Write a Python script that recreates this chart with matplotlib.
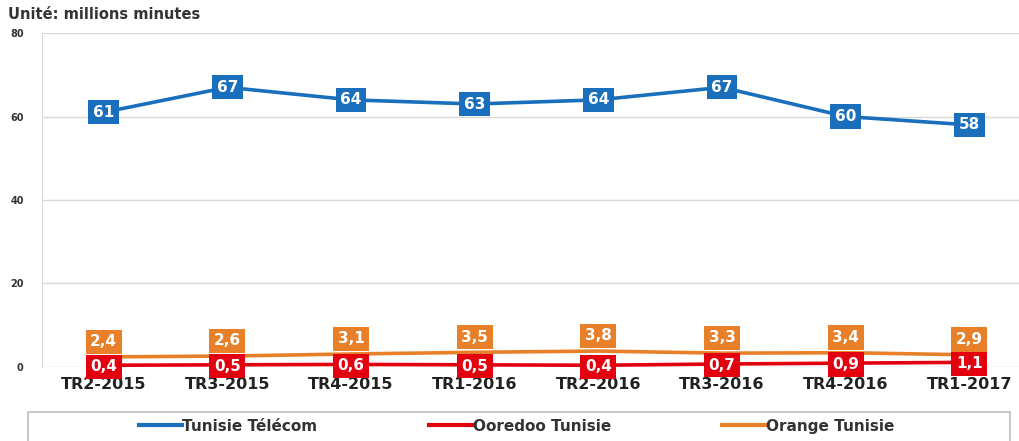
import matplotlib.pyplot as plt
from matplotlib.patches import Rectangle

# trimestres et trafic (millions de minutes)
trimestres = ["TR2-2015", "TR3-2015", "TR4-2015", "TR1-2016",
              "TR2-2016", "TR3-2016", "TR4-2016", "TR1-2017"]
telecom = [61, 67, 64, 63, 64, 67, 60, 58]
ooredoo = [0.4, 0.5, 0.6, 0.5, 0.4, 0.7, 0.9, 1.1]
orange = [2.4, 2.6, 3.1, 3.5, 3.8, 3.3, 3.4, 2.9]

c_bleu = "#1a6fbd"
c_rouge = "#e3000f"
c_orange = "#e8802a"

fig = plt.figure(figsize=(10.19, 4.41), dpi=100)
ax = fig.add_axes([0.041, 0.168, 0.971, 0.757])

x = list(range(len(trimestres)))
ax.plot(x, telecom, color=c_bleu, lw=2.6, label="Tunisie Télécom", zorder=3)
ax.plot(x, ooredoo, color=c_rouge, lw=2.6, label="Ooredoo Tunisie", zorder=3)
ax.plot(x, orange, color=c_orange, lw=2.6, label="Orange Tunisie", zorder=2)

def fmt(v):
    return str(v).replace(".", ",")

style = dict(ha="center", va="center", color="white", fontsize=11, fontweight="bold",
             textcoords="offset points")
for i in x:
    ax.annotate(fmt(telecom[i]), (i, telecom[i]), xytext=(0, 0), zorder=5,
                bbox=dict(boxstyle="square,pad=0.3", fc=c_bleu, ec="none"), **style)
    ax.annotate(fmt(orange[i]), (i, orange[i]), xytext=(0, 11), zorder=5,
                bbox=dict(boxstyle="square,pad=0.3", fc=c_orange, ec="none"), **style)
    ax.annotate(fmt(ooredoo[i]), (i, ooredoo[i]), xytext=(0, -1), zorder=6,
                bbox=dict(boxstyle="square,pad=0.3", fc=c_rouge, ec="none"), **style)

ax.set_ylim(0, 80)
ax.set_yticks([0, 20, 40, 60, 80])
ax.set_xlim(-0.5, 7.5)
ax.set_xticks(x)
ax.set_xticklabels(trimestres, fontsize=11.5, fontweight="bold", color="#222222")
for t in ax.get_yticklabels():
    t.set_fontsize(7)
    t.set_fontweight("bold")
    t.set_color("#333333")
ax.tick_params(axis="x", length=0, pad=7)
ax.tick_params(axis="y", length=0, pad=13)
ax.grid(axis="y", color="#d9d9d9", lw=1)
ax.set_axisbelow(True)
for s in ["top", "right", "bottom"]:
    ax.spines[s].set_visible(False)
ax.spines["left"].set_color("#d9d9d9")

fig.text(0.008, 0.968, "Unité: millions minutes", fontsize=10.5, fontweight="bold",
         color="#333333", ha="left", va="center")

# cadre de la légende
fig.patches.append(Rectangle((0.0275, -0.05), 0.964, 0.116, transform=fig.transFigure,
                             fill=False, ec="#bfbfbf", lw=1.2))
leg = fig.legend(loc="center", bbox_to_anchor=(0.507, 0.034), ncol=3, frameon=False,
                 handlelength=2.8, handletextpad=0.05, columnspacing=7.3,
                 prop={"size": 11, "weight": "bold"})
for h in leg.legend_handles:
    h.set_linewidth(3)
for t in leg.get_texts():
    t.set_color("#333333")

fig.savefig("out.png", dpi=100)
